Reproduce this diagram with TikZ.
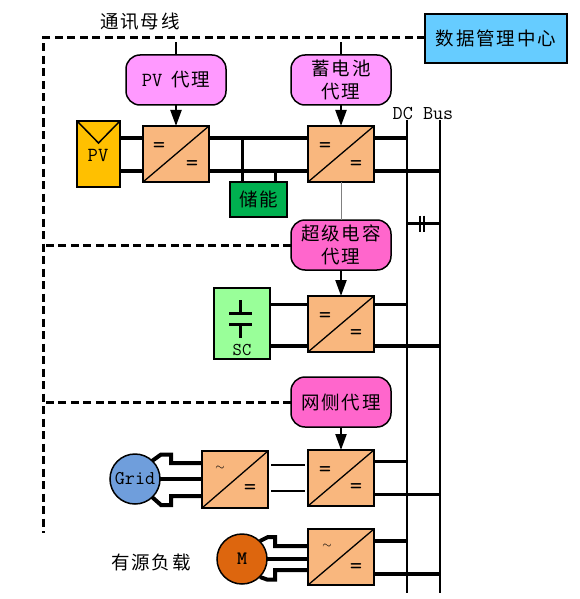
\documentclass[tikz,border=0pt]{standalone}
\usepackage{fontspec}
\renewcommand{\familydefault}{\ttdefault}
\newfontfamily\cjk[LetterSpace=10]{Noto Sans CJK SC}
\usetikzlibrary{arrows.meta,calc}
\definecolor{agentA}{HTML}{FF99FF}
\definecolor{agentB}{HTML}{FF66CC}
\definecolor{convC}{HTML}{F9B77E}
\definecolor{centerC}{HTML}{66CCFF}
\definecolor{pvC}{HTML}{FFC000}
\definecolor{storeC}{HTML}{00B050}
\definecolor{scC}{HTML}{99FF99}
\definecolor{gridC}{HTML}{6F9EDC}
\definecolor{motorC}{HTML}{DD660E}
\newcommand{\tcjk}[1]{{\fontsize{18.5}{23}\selectfont\cjk #1}}
\newcommand{\tlat}[1]{{\fontsize{20}{20}\selectfont #1}}
\tikzset{
  x=1pt,y=-1pt,
  every node/.style={inner sep=0pt,outer sep=0pt},
  label text/.style={font=\fontsize{18.5}{23}\selectfont\cjk,align=center},
  agent/.style={draw=black,line width=1.5pt,rounded corners=14pt,minimum width=100pt,minimum height=50pt},
  conv/.style={draw=black,fill=convC,line width=2.2pt,minimum width=66pt,minimum height=56pt},
  boxnode/.style={draw=black,line width=2pt},
  sym/.style={font=\fontsize{24}{24}\selectfont},
  wave/.style={font=\fontsize{13}{13}\selectfont},
  comm/.style={line width=3pt,dash pattern=on 8pt off 4.5pt},
  stub/.style={line width=2.2pt},
  ctrl/.style={line width=2.2pt,-{Triangle[length=16pt,width=11pt]}},
  heavy/.style={line width=4pt},
  medium/.style={line width=3pt},
  slim/.style={line width=2pt},
  busline/.style={line width=2.5pt},
  roundnode/.style={circle,draw=black,line width=1.5pt,minimum size=50pt},
}
\newcommand{\diag}[1]{\draw[line width=1.3pt] (#1.south west) -- (#1.north east);}
\begin{document}
\begin{tikzpicture}
\useasboundingbox (0,0) rectangle (579,599);

% DC bus rails
\coordinate (busAtop) at (407,120);
\coordinate (busAbot) at (407,593);
\coordinate (busBtop) at (440,120);
\coordinate (busBbot) at (440,593);

% nodes
\node[boxnode,fill=centerC,minimum width=142pt,minimum height=49pt,label text] (center) at (496,38.5) {数据管理中心};
\node[label text] (commlabel) at (140,22) {通讯母线};
\node[font=\fontsize{19.6}{20}\selectfont] (buslabel) at (423,114) {DC Bus};

\node[agent,fill=agentA] (pvagent) at (176,80) {\tlat{PV}\hspace{9pt}\tcjk{代理}};
\node[agent,fill=agentA,label text] (batagent) at (341,80) {蓄电池\\代理};
\node[agent,fill=agentB,label text] (scagent) at (341,245) {超级电容\\代理};
\node[agent,fill=agentB,label text] (gridagent) at (341,402) {网侧代理};

\node[boxnode,fill=pvC,minimum width=43pt,minimum height=66pt] (pv) at (98.5,154) {};
\node (pvtext) at (98,155) {\tlat{PV}};
\node[boxnode,fill=storeC,minimum width=57pt,minimum height=35pt,label text] (store) at (258.5,199.5) {储能};
\node[boxnode,fill=scC,minimum width=56pt,minimum height=71pt] (sc) at (242,323.5) {};
\node[font=\fontsize{18}{18}\selectfont] (sctext) at (242,350) {SC};

\node[conv] (c1) at (176,154) {};
\node[conv] (c2) at (341,154) {};
\node[conv] (c3) at (341,324) {};
\node[conv] (c4) at (341,478) {};
\node[conv] (c5) at (341,557) {};
\node[conv,minimum height=57pt] (cg) at (235,479.5) {};

\node[roundnode,fill=gridC,font=\fontsize{19.5}{19.5}\selectfont] (grid) at (135,479) {Grid};
\node[roundnode,fill=motorC,font=\fontsize{19}{19}\selectfont\bfseries] (motor) at (242,559) {M};
\node[label text] (loadlabel) at (151,562) {有源负载};

% converter diagonals and symbols
\diag{c1}\diag{c2}\diag{c3}\diag{c4}\diag{c5}\diag{cg}
\node[sym] (s1a) at (159,148) {=};
\node[sym] (s1b) at (192,166) {=};
\node[sym] (s2a) at (325,148) {=};
\node[sym] (s2b) at (356,166) {=};
\node[sym] (s3a) at (325,318) {=};
\node[sym] (s3b) at (356,335) {=};
\node[sym] (s4a) at (325,472) {=};
\node[sym] (s4b) at (356,489) {=};
\node[wave] (s5a) at (327,546) {$\sim$};
\node[sym] (s5b) at (356,569) {=};
\node[wave] (sga) at (220,468) {$\sim$};
\node[sym] (sgb) at (250,490) {=};

% PV envelope mark
\draw[line width=1.5pt] (pv.north west) -- ($(pv.north)+(0,22)$) -- (pv.north east);

% communication bus
\coordinate (commcorner) at (43,38);
\coordinate (commend) at (43,533);
\draw[comm] (center.west |- 0,38) -- (commcorner) -- (commend);
\draw[comm] (scagent.west) -- (43,245);
\draw[comm] (gridagent.west) -- (43,402);
\draw[stub] (pvagent.north) -- (176,42);
\draw[stub] (batagent.north) -- (341,42);

% control arrows
\draw[ctrl] (pvagent.south) -- (c1.north);
\draw[ctrl] (batagent.south) -- (c2.north);
\draw[ctrl] (scagent.south) -- (c3.north);
\draw[ctrl] (gridagent.south) -- (c4.north);
\draw[line width=1pt,gray] (c2.south) -- (scagent.north);

% power connections: PV
\draw[heavy] (pv.east |- 0,137.5) -- (c1.west |- 0,137.5);
\draw[heavy] (pv.east |- 0,171) -- (c1.west |- 0,171);
\draw[heavy] (c1.east |- 0,137.5) -- (c2.west |- 0,137.5);
\draw[heavy] (c1.east |- 0,171) -- (c2.west |- 0,171);
\draw[medium] (242,137.5) -- (242,182);
\draw[medium] (275,171) -- (275,182);
\draw[heavy] (c2.east |- 0,137.5) -- (busAtop |- 0,137.5);
\draw[heavy] (c2.east |- 0,171) -- (busBtop |- 0,171);

% SC
\draw[medium] (sc.east |- 0,304) -- (c3.west |- 0,304);
\draw[heavy] (sc.east |- 0,346) -- (c3.west |- 0,346);
\draw[medium] (c3.east |- 0,304) -- (busAtop |- 0,304);
\draw[heavy] (c3.east |- 0,346) -- (busBtop |- 0,346);
\draw[line width=3pt] (229,313) -- (252,313);
\draw[line width=3pt] (229,324) -- (252,324);
\draw[line width=3pt] (240.5,300) -- (240.5,313);
\draw[line width=3pt] (240.5,324) -- (240.5,338);

% grid
\draw[medium] (c4.east |- 0,461) -- (busAtop |- 0,461);
\draw[medium] (c4.east |- 0,494) -- (busBtop |- 0,494);
\draw[slim] (271,465) -- (305,465);
\draw[slim] (271,491) -- (305,491);
\draw[heavy] (152,461) -- (161,454.5) -- (171,454.5) -- (171,463) -- (cg.west |- 0,463);
\draw[heavy] (grid.east) -- (cg.west |- grid.east);
\draw[heavy] (152,497) -- (161,505) -- (171,505) -- (171,496) -- (cg.west |- 0,496);

% motor
\draw[heavy] (c5.east |- 0,541) -- (busAtop |- 0,541);
\draw[heavy] (c5.east |- 0,574) -- (busBtop |- 0,574);
\draw[heavy] (260,541) -- (268,537) -- (275,537) -- (275,546) -- (c5.west |- 0,546);
\draw[heavy] (motor.east) -- (c5.west |- motor.east);
\draw[heavy] (260,577) -- (267,579.5) -- (275,579.5) -- (275,570) -- (c5.west |- 0,570);

% rails and bus tie
\draw[busline] (busAtop) -- (busAbot);
\draw[busline] (busBtop) -- (busBbot);
\draw[medium] (busAtop |- 0,223) -- (busBtop |- 0,223);
\draw[line width=2pt] (420.3,215.5) -- (420.3,231.5);
\draw[line width=2pt] (423.7,215.5) -- (423.7,231.5);
\end{tikzpicture}
\end{document}
